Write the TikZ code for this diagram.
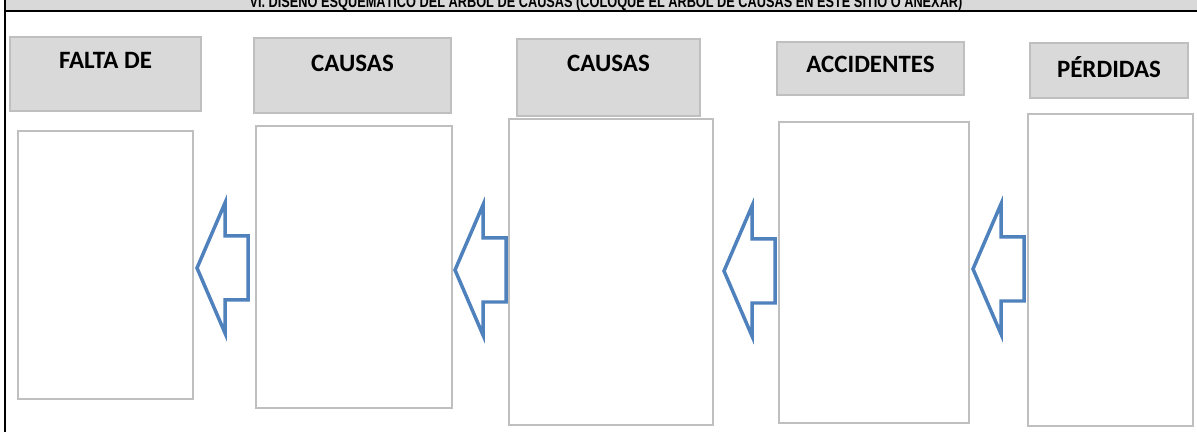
\documentclass[tikz,border=0pt]{standalone}
\usepackage{graphicx}
\usepackage{fontspec}
\setmainfont{Carlito}
\newfontfamily\headfont{Liberation Sans}
\usetikzlibrary{positioning}

\definecolor{cajagris}{RGB}{217,217,217}
\definecolor{bordegris}{RGB}{191,191,191}
\definecolor{flechaazul}{RGB}{79,129,189}

\begin{document}
\begin{tikzpicture}
		[x=0.02cm, y=-0.02cm,
		titulo/.style={draw=bordegris, fill=cajagris, line width=0.03cm, inner sep=0},
		cuadro/.style={draw=bordegris, fill=white, line width=0.03cm, inner sep=0},
		etiqueta/.style={font=\bfseries\fontsize{14.2}{17}\selectfont, inner sep=0,
			text height=0.32cm, text depth=0pt},
		flecha/.pic={\draw[draw=flechaazul, fill=white, line width=0.07cm]
			(0,0) -- (28,-65) -- (28,-32) -- (51,-32) -- (51,32) -- (28,32) -- (28,65) -- cycle;},
		]

		\useasboundingbox (0,0) rectangle (1197,432);
		\clip (0,0) rectangle (1197,432);

		% encabezado
		\fill[cajagris] (5,-20) rectangle (1197,11);
		\node[anchor=base, inner sep=0, font=\headfont\bfseries\fontsize{9.5}{11}\selectfont]
			(encabezado) at (606,7.5)
			{\resizebox{14.26cm}{\height}{VI. DISEÑO ESQUEMÁTICO DEL ÁRBOL DE CAUSAS (COLOQUE EL ÁRBOL DE CAUSAS EN ESTE SITIO O ANEXAR)}};
		\draw[line width=0.04cm] (5,11) -- (1197,11);
		\draw[line width=0.06cm] (5,0) -- (5,432);

		% titulos
		\node[titulo, minimum width=3.82cm, minimum height=1.48cm] (t1) at (105.5,74) {};
		\node[titulo, minimum width=3.94cm, minimum height=1.50cm] (t2) at (352.5,75.5) {};
		\node[titulo, minimum width=3.66cm, minimum height=1.54cm] (t3) at (608.5,77.5) {};
		\node[titulo, minimum width=3.74cm, minimum height=1.06cm] (t4) at (870.5,68.5) {};
		\node[titulo, minimum width=3.16cm, minimum height=1.10cm] (t5) at (1109,70.5) {};

		\node[etiqueta, below=0.32cm of t1.north] (e1) {FALTA DE};
		\node[etiqueta, below=0.36cm of t2.north] (e2) {CAUSAS};
		\node[etiqueta, below=0.34cm of t3.north] (e3) {CAUSAS};
		\node[etiqueta, below=0.30cm of t4.north] (e4) {ACCIDENTES};
		\node[etiqueta, below=0.38cm of t5.north] (e5) {PÉRDIDAS};

		% cuadros vacios
		\node[cuadro, minimum width=3.50cm, minimum height=5.36cm] (c1) at (105.5,265) {};
		\node[cuadro, minimum width=3.92cm, minimum height=5.64cm] (c2) at (354,267) {};
		\node[cuadro, minimum width=4.08cm, minimum height=6.12cm] (c3) at (611,272) {};
		\node[cuadro, minimum width=3.80cm, minimum height=6.02cm] (c4) at (874,272.5) {};
		\node[cuadro, minimum width=3.30cm, minimum height=6.24cm] (c5) at (1110.5,270) {};

		% flechas
		\pic (f1) at (197,268) {flecha};
		\pic (f2) at (455,270) {flecha};
		\pic (f3) at (724,271) {flecha};
		\pic (f4) at (973,269) {flecha};
	\end{tikzpicture}
\end{document}
